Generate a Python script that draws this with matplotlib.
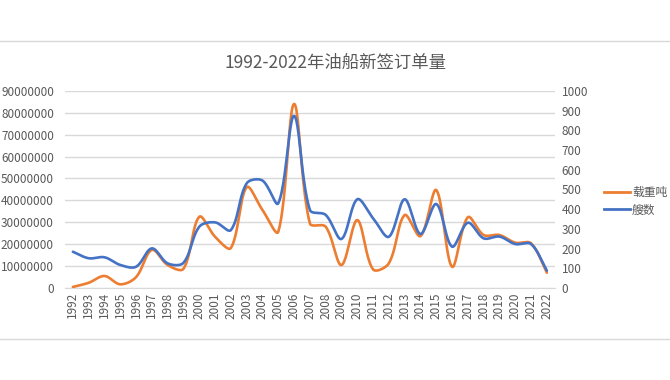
import numpy as np
import matplotlib
matplotlib.use("Agg")
import matplotlib.pyplot as plt
from matplotlib.lines import Line2D

plt.rcParams['font.family'] = ['Noto Sans CJK SC', 'DejaVu Sans']

years = list(range(1992, 2023))
dwt = [0.5e6, 2.4e6, 5.5e6, 1.7e6, 5.0e6, 17.4e6, 10.5e6, 8.8e6, 32.5e6, 23.4e6,
       18.3e6, 46.0e6, 35.6e6, 25.7e6, 84.0e6, 29.5e6, 28.0e6, 10.5e6, 31.0e6, 8.5e6,
       11.3e6, 33.3e6, 23.7e6, 44.7e6, 9.7e6, 32.3e6, 24.2e6, 24.2e6, 20.7e6, 20.4e6, 7.0e6]
ships = [184, 151, 156, 117, 108, 201, 125, 128, 311, 333,
         294, 531, 545, 430, 873, 396, 371, 249, 450, 354,
         260, 450, 274, 426, 210, 331, 252, 261, 223, 223, 88]
series_names = ['载重吨', '艘数']
colors = ['#ED7D31', '#4472C4']
grey = '#595959'


def smooth(y, yscale, xscale=15.83, n=24, s=1/3):
    # bezier smoothing like the spreadsheet "smoothed line":
    # tangent split by the screen length of the neighbouring segments
    px = np.arange(len(y)) * xscale
    py = np.asarray(y, dtype=float) * yscale
    P = np.column_stack([px, py])
    m = len(P)
    cin = P.copy()
    cout = P.copy()
    for i in range(m):
        a = P[max(i - 1, 0)]
        b = P[min(i + 1, m - 1)]
        d = b - a
        lp = np.hypot(*(P[i] - a))
        ln = np.hypot(*(b - P[i]))
        tot = lp + ln
        if tot == 0:
            continue
        cout[i] = P[i] + d * s * ln / tot
        cin[i] = P[i] - d * s * lp / tot
    t = np.linspace(0, 1, n, endpoint=False)[:, None]
    pts = []
    for i in range(m - 1):
        p0, p1, p2, p3 = P[i], cout[i], cin[i + 1], P[i + 1]
        pts.append((1 - t) ** 3 * p0 + 3 * (1 - t) ** 2 * t * p1
                   + 3 * (1 - t) * t ** 2 * p2 + t ** 3 * p3)
    pts.append(P[-1:])
    pts = np.vstack(pts)
    return pts[:, 0] / xscale, pts[:, 1] / yscale


fig = plt.figure(figsize=(6.7, 3.8), dpi=100)
ax1 = fig.add_axes([0.097, 0.242, 0.731, 0.519])
ax2 = ax1.twinx()

x = np.arange(len(years))
sx, sy = smooth(dwt, 21.9 / 10e6)
ax1.plot(sx, sy, color=colors[0], lw=1.9, solid_capstyle='round', zorder=3)
sx, sy = smooth(ships, 19.7 / 100)
ax2.plot(sx, sy, color=colors[1], lw=1.9, solid_capstyle='round', zorder=3)

ax1.set_xlim(-0.5, len(years) - 0.5)
ax1.set_ylim(0, 90e6)
ax2.set_ylim(0, 1000)
ax1.set_yticks(np.arange(0, 90e6 + 1, 10e6))
ax1.set_yticklabels([f'{int(v)}' for v in np.arange(0, 90e6 + 1, 10e6)])
ax2.set_yticks(np.arange(0, 1001, 100))
ax1.set_xticks(x)
ax1.set_xticklabels([str(y) for y in years], rotation=90)

ax1.grid(axis='y', color='#d9d9d9', lw=1)
ax1.set_axisbelow(True)
for a in (ax1, ax2):
    for sp in a.spines.values():
        sp.set_visible(False)
    a.tick_params(length=0, colors=grey, labelsize=8.5)
ax1.spines['bottom'].set_visible(True)
ax1.spines['bottom'].set_color('#d9d9d9')
ax1.tick_params(axis='y', pad=8)
ax1.tick_params(axis='x', pad=3)
ax2.tick_params(axis='y', pad=5)

fig.text(0.5, 0.835, '1992-2022年油船新签订单量', ha='center', va='center',
         fontsize=12.5, color=grey)

handles = [Line2D([], [], color=c, lw=2) for c in colors]
fig.legend(handles, series_names, loc='center left', bbox_to_anchor=(0.885, 0.47),
           frameon=False, fontsize=8.5, labelcolor=grey, handlelength=2.2,
           handletextpad=0.2, labelspacing=0.35)

fig.add_artist(Line2D([0, 1], [1 - 41 / 380, 1 - 41 / 380], color='#d9d9d9', lw=1))
fig.add_artist(Line2D([0, 1], [1 - 339 / 380, 1 - 339 / 380], color='#d9d9d9', lw=1))

fig.savefig('out.png', dpi=100)
